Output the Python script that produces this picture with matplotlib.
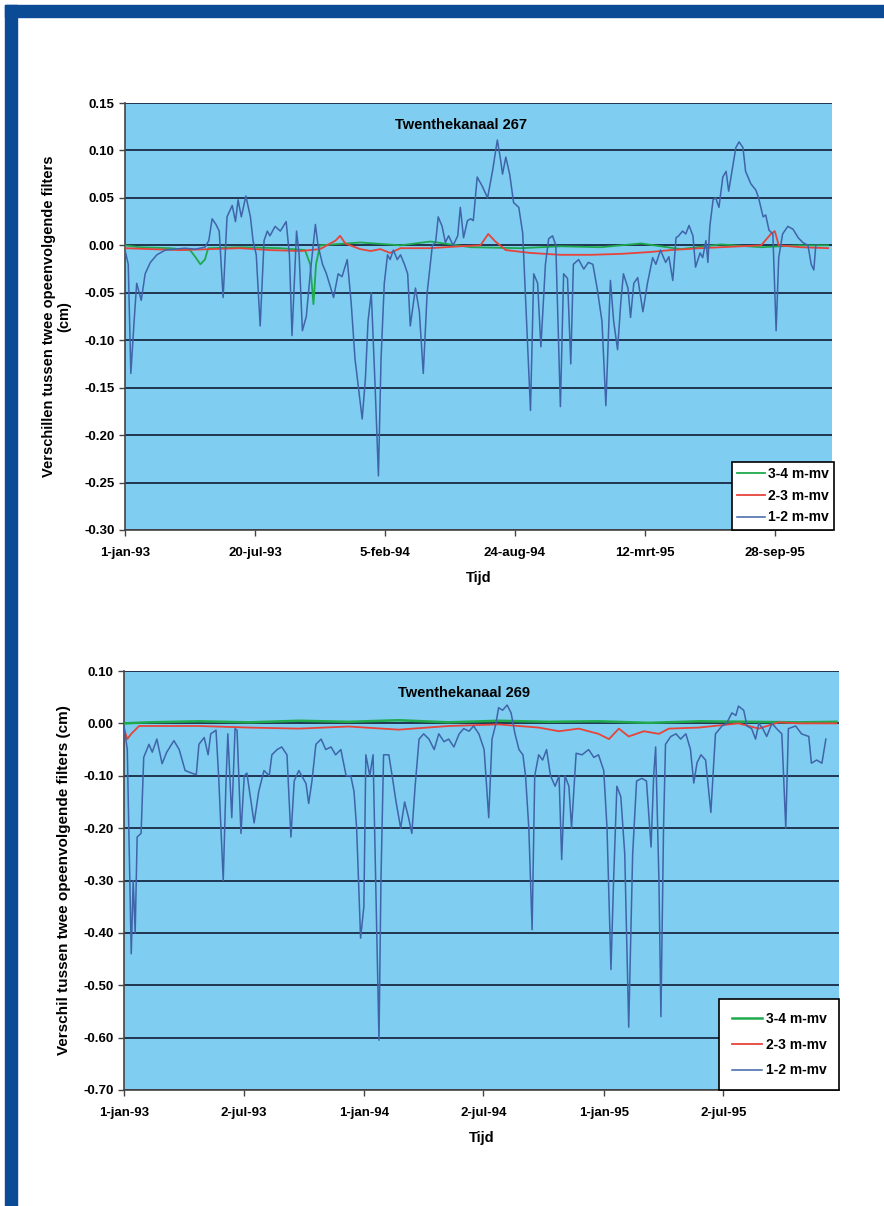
import datetime as dt
import numpy as np
import matplotlib
matplotlib.use("Agg")
import matplotlib.pyplot as plt
import matplotlib.dates as mdates
from matplotlib.patches import Rectangle

plt.rcParams['font.family'] = ['Liberation Sans', 'DejaVu Sans']

# ---- data: day offsets from 1-jan-1993 and values (cm) ----
start = dt.date(1993, 1, 1)

# Twenthekanaal 267
t267_blue_days = [0, 5, 9, 14, 18, 25, 31, 39, 49, 62, 77, 92, 108, 123, 129, 134, 140, 145, 151, 157,
                  165, 170, 174, 179, 186, 193, 197, 202, 208, 214, 219, 223, 231, 239, 248, 253, 257, 264, 268, 273,
                  279, 285, 293, 297, 304, 310, 321, 328, 334, 342, 348, 354, 361, 365, 370, 374, 379, 385, 390, 394,
                  399, 404, 408, 413, 419, 424, 430, 435, 439, 444, 447, 453, 459, 465, 473, 478, 482, 488, 493, 498,
                  505, 512, 516, 521, 527, 532, 536, 542, 550, 558, 566, 573, 578, 581, 586, 592, 598, 606, 612, 616,
                  624, 629, 635, 640, 647, 652, 658, 663, 670, 675, 681, 686, 690, 698, 706, 713, 720, 727, 734, 740,
                  747, 752, 758, 763, 767, 774, 778, 783, 789, 797, 804, 812, 817, 824, 832, 837, 843, 848, 852, 858,
                  863, 868, 874, 878, 885, 889, 894, 897, 900, 905, 909, 914, 920, 925, 929, 935, 940, 945, 951, 955,
                  963, 971, 975, 982, 986, 991, 997, 1002, 1006, 1012, 1020, 1028, 1036, 1043, 1051, 1056, 1060, 1063]
t267_blue = [-0.005, -0.02, -0.135, -0.08, -0.04, -0.058, -0.03, -0.018, -0.01, -0.005, -0.004, -0.003, -0.004, -0.002, 0.005, 0.028, 0.022, 0.015, -0.055, 0.03,
             0.042, 0.025, 0.048, 0.03, 0.052, 0.03, 0.005, -0.01, -0.085, 0.005, 0.015, 0.01, 0.02, 0.015, 0.025, -0.01, -0.095, 0.015, -0.01, -0.09,
             -0.075, -0.03, 0.022, 0.0, -0.02, -0.03, -0.055, -0.03, -0.033, -0.015, -0.06, -0.12, -0.16, -0.183, -0.14, -0.08, -0.05, -0.15, -0.243, -0.12,
             -0.04, -0.01, -0.015, -0.005, -0.015, -0.01, -0.02, -0.03, -0.085, -0.06, -0.045, -0.07, -0.135, -0.05, 0.0, 0.003, 0.03, 0.02, 0.003, 0.01,
             0.0, 0.01, 0.04, 0.008, 0.026, 0.028, 0.026, 0.072, 0.062, 0.05, 0.08, 0.111, 0.09, 0.075, 0.093, 0.075, 0.045, 0.04, 0.013, -0.05,
             -0.174, -0.03, -0.04, -0.107, -0.02, 0.007, 0.01, 0.0, -0.17, -0.03, -0.035, -0.125, -0.02, -0.015, -0.025, -0.018, -0.02, -0.047, -0.08, -0.169,
             -0.037, -0.08, -0.11, -0.06, -0.03, -0.045, -0.076, -0.04, -0.034, -0.07, -0.04, -0.013, -0.02, -0.005, -0.018, -0.012, -0.037, 0.008, 0.01, 0.015,
             0.012, 0.021, 0.01, -0.023, -0.008, -0.013, 0.005, -0.018, 0.02, 0.048, 0.05, 0.04, 0.072, 0.078, 0.057, 0.082, 0.103, 0.109, 0.103, 0.078,
             0.065, 0.058, 0.05, 0.03, 0.032, 0.016, 0.012, -0.09, -0.013, 0.012, 0.02, 0.017, 0.008, 0.003, 0.0, -0.02, -0.026, 0.0]

t267_green_days = [0, 23, 69, 100, 108, 116, 123, 128, 177, 239, 277, 285, 290, 294, 300, 362, 424, 470, 532, 609,
                   670, 732, 794, 855, 917, 979, 1040, 1082]
t267_green = [0.0, -0.002, -0.003, -0.005, -0.012, -0.02, -0.015, -0.003, -0.002, -0.003, -0.005, -0.02, -0.062, -0.02, 0.0, 0.003, 0.0, 0.004, -0.002, -0.003,
              -0.001, -0.002, 0.002, -0.004, 0.001, -0.002, 0.0, 0.0]

t267_red_days = [0, 39, 85, 131, 177, 223, 270, 300, 324, 331, 339, 362, 378, 393, 408, 424, 470, 516, 547, 559,
                 570, 586, 624, 670, 717, 763, 809, 840, 886, 917, 979, 994, 1000, 1006, 1040, 1082]
t267_red = [-0.003, -0.004, -0.005, -0.004, -0.003, -0.005, -0.006, -0.004, 0.005, 0.01, 0.002, -0.004, -0.006, -0.004, -0.008, -0.003, -0.003, -0.001, 0.0, 0.012,
            0.004, -0.005, -0.008, -0.01, -0.01, -0.009, -0.007, -0.005, -0.003, -0.002, 0.0, 0.012, 0.015, 0.0, -0.002, -0.003]

# Twenthekanaal 269
t269_blue_days = [0, 5, 8, 11, 14, 17, 20, 26, 30, 38, 43, 50, 58, 65, 76, 84, 93, 103, 110, 114,
                  122, 128, 132, 140, 144, 151, 155, 158, 164, 169, 172, 178, 183, 187, 193, 198, 205, 213, 221, 225,
                  233, 240, 248, 254, 259, 266, 277, 281, 286, 292, 300, 307, 315, 322, 330, 338, 345, 350, 354, 360,
                  365, 368, 374, 379, 383, 388, 391, 395, 403, 408, 414, 421, 427, 433, 438, 443, 449, 456, 464, 472,
                  479, 487, 494, 502, 510, 517, 525, 532, 540, 548, 555, 560, 566, 570, 576, 583, 589, 595, 601, 607,
                  611, 616, 621, 625, 631, 637, 643, 649, 656, 662, 666, 671, 677, 681, 688, 697, 707, 715, 722, 730,
                  735, 741, 745, 750, 756, 762, 768, 774, 780, 788, 795, 802, 806, 809, 814, 817, 821, 824, 832, 840,
                  847, 855, 862, 867, 872, 878, 885, 893, 900, 910, 917, 925, 931, 935, 943, 948, 955, 961, 966, 972,
                  978, 986, 993, 1001, 1007, 1011, 1022, 1031, 1042, 1046, 1054, 1062, 1068]
t269_blue = [-0.005, -0.05, -0.25, -0.44, -0.30, -0.40, -0.217, -0.21, -0.065, -0.04, -0.055, -0.03, -0.077, -0.055, -0.033, -0.05, -0.09, -0.095, -0.098, -0.04,
             -0.027, -0.06, -0.02, -0.013, -0.1, -0.30, -0.12, -0.02, -0.18, -0.01, -0.013, -0.21, -0.1, -0.095, -0.147, -0.19, -0.13, -0.09, -0.1, -0.06,
             -0.05, -0.045, -0.06, -0.217, -0.11, -0.09, -0.115, -0.153, -0.11, -0.04, -0.03, -0.05, -0.045, -0.06, -0.05, -0.1, -0.1, -0.13, -0.2, -0.41,
             -0.35, -0.06, -0.1, -0.06, -0.3, -0.605, -0.3, -0.06, -0.06, -0.1, -0.15, -0.2, -0.15, -0.18, -0.21, -0.12, -0.03, -0.02, -0.03, -0.05,
             -0.02, -0.035, -0.03, -0.045, -0.02, -0.01, -0.015, -0.005, -0.02, -0.05, -0.18, -0.03, 0.0, 0.03, 0.025, 0.035, 0.02, -0.02, -0.05, -0.06,
             -0.1, -0.2, -0.394, -0.1, -0.06, -0.07, -0.05, -0.1, -0.12, -0.1, -0.26, -0.1, -0.12, -0.2, -0.057, -0.06, -0.05, -0.065, -0.06, -0.09,
             -0.2, -0.47, -0.3, -0.12, -0.14, -0.25, -0.58, -0.25, -0.11, -0.105, -0.11, -0.236, -0.1, -0.045, -0.3, -0.56, -0.2, -0.04, -0.025, -0.02,
             -0.03, -0.02, -0.05, -0.114, -0.075, -0.06, -0.07, -0.17, -0.02, -0.005, 0.0, 0.02, 0.015, 0.033, 0.025, -0.005, -0.01, -0.03, 0.0, -0.01,
             -0.025, 0.0, -0.01, -0.02, -0.2, -0.01, -0.005, -0.02, -0.025, -0.076, -0.07, -0.076, -0.03]

t269_green_days = [0, 38, 114, 190, 266, 342, 418, 494, 570, 646, 722, 798, 875, 951, 1027, 1084]
t269_green = [0.0, 0.002, 0.004, 0.002, 0.005, 0.003, 0.006, 0.002, 0.005, 0.003, 0.004, 0.001, 0.004, 0.003, 0.002, 0.003]

t269_red_days = [0, 5, 11, 23, 114, 190, 266, 342, 418, 494, 570, 631, 662, 692, 722, 738, 753, 768, 791, 814,
                 829, 875, 935, 966, 996, 1027, 1084]
t269_red = [-0.01, -0.03, -0.02, -0.005, -0.005, -0.008, -0.01, -0.006, -0.012, -0.005, -0.002, -0.008, -0.015, -0.01, -0.02, -0.03, -0.01, -0.025, -0.015, -0.02,
            -0.01, -0.008, 0.0, -0.01, 0.002, 0.0, 0.0]

ticks_267 = ['1993-01-01', '1993-07-20', '1994-02-05', '1994-08-24', '1995-03-12', '1995-09-28']
ticklabels_267 = ['1-jan-93', '20-jul-93', '5-feb-94', '24-aug-94', '12-mrt-95', '28-sep-95']
ticks_269 = ['1993-01-01', '1993-07-02', '1994-01-01', '1994-07-02', '1995-01-01', '1995-07-02']
ticklabels_269 = ['1-jan-93', '2-jul-93', '1-jan-94', '2-jul-94', '1-jan-95', '2-jul-95']


def to_dates(days):
    return [start + dt.timedelta(days=d) for d in days]


BG = '#7fcdf0'
GRID = '#1f3550'
C_GREEN = '#1fa94c'
C_RED = '#e8433a'
C_BLUE = '#3f64aa'

fig = plt.figure(figsize=(8.84, 12.06), dpi=100)
fig.patch.set_facecolor('white')
# blue page frame (top and left)
fig.patches.append(Rectangle((5 / 884, 1 - 17 / 1206), 1, 12 / 1206, transform=fig.transFigure,
                             color='#0b4a94', zorder=0))
fig.patches.append(Rectangle((5 / 884, 0), 12 / 884, 1 - 5 / 1206, transform=fig.transFigure,
                             color='#0b4a94', zorder=0))


def fmt(v):
    return '%.2f' % (0.0 if abs(v) < 1e-9 else v)


def style_axes(ax, ylim, yticks, xticks, xlabels, title):
    ax.set_facecolor(BG)
    ax.set_xlim(mdates.date2num(start), mdates.date2num(start + dt.timedelta(days=1088)))
    ax.set_ylim(*ylim)
    ax.set_yticks(yticks)
    ax.set_yticklabels([fmt(v) for v in yticks])
    ax.set_xticks([mdates.date2num(dt.date.fromisoformat(s)) for s in xticks])
    ax.set_xticklabels(xlabels)
    for y in yticks:
        ax.axhline(y, color=GRID, lw=1.4, zorder=1)
    for s in ['top', 'right']:
        ax.spines[s].set_visible(False)
    for s in ['left', 'bottom']:
        ax.spines[s].set_color('#444444')
        ax.spines[s].set_linewidth(1.2)
    ax.tick_params(axis='both', direction='out', length=4, width=1, color='#444444',
                   labelsize=9.5)
    ax.tick_params(axis='x', pad=8)
    for lab in ax.get_xticklabels() + ax.get_yticklabels():
        lab.set_fontweight('bold')
    ax.set_xlabel('Tijd', fontsize=10.5, fontweight='bold', labelpad=9)
    ax.text(0.475, 0.948, title, transform=ax.transAxes, ha='center', va='center',
            fontsize=10.5, fontweight='bold')


# ---- top chart ----
ax1 = fig.add_axes([125 / 884, 1 - 530 / 1206, 707 / 884, 427 / 1206])
ax1.plot(to_dates(t267_green_days), t267_green, color=C_GREEN, lw=1.3, label='3-4 m-mv', zorder=3)
ax1.plot(to_dates(t267_red_days), t267_red, color=C_RED, lw=1.3, label='2-3 m-mv', zorder=3)
ax1.plot(to_dates(t267_blue_days), t267_blue, color=C_BLUE, lw=1.1, label='1-2 m-mv', zorder=4)
style_axes(ax1, (-0.30, 0.15), np.round(np.arange(-0.30, 0.151, 0.05), 2),
           ticks_267, ticklabels_267, 'Twenthekanaal 267')
ax1.set_ylabel('Verschillen tussen twee opeenvolgende filters\n(cm)', fontsize=10.5,
               fontweight='bold', labelpad=9, linespacing=1.2)
leg1 = ax1.legend(loc='lower right', bbox_to_anchor=(1.003, 0.0), fancybox=False, framealpha=1,
                  edgecolor='black', prop={'weight': 'bold', 'size': 10}, handlelength=2.0,
                  handletextpad=0.2, labelspacing=0.55, borderpad=0.4, borderaxespad=0.0)
leg1.get_frame().set_linewidth(1.2)
leg1.set_zorder(10)

# ---- bottom chart ----
ax2 = fig.add_axes([124 / 884, 1 - 1090 / 1206, 715 / 884, 419 / 1206])
ax2.plot(to_dates(t269_green_days), t269_green, color=C_GREEN, lw=1.8, label='3-4 m-mv', zorder=3)
ax2.plot(to_dates(t269_red_days), t269_red, color=C_RED, lw=1.3, label='2-3 m-mv', zorder=3)
ax2.plot(to_dates(t269_blue_days), t269_blue, color=C_BLUE, lw=1.1, label='1-2 m-mv', zorder=4)
style_axes(ax2, (-0.70, 0.10), np.round(np.arange(-0.70, 0.101, 0.10), 2),
           ticks_269, ticklabels_269, 'Twenthekanaal 269')
ax2.set_ylabel('Verschil tussen twee opeenvolgende filters (cm)', fontsize=11,
               fontweight='bold', labelpad=9)
leg2 = ax2.legend(loc='lower right', bbox_to_anchor=(1.0, 0.0), fancybox=False, framealpha=1,
                  edgecolor='black', prop={'weight': 'bold', 'size': 10}, handlelength=2.2,
                  handletextpad=0.25, labelspacing=0.85, borderpad=0.9, borderaxespad=0.0)
leg2.get_frame().set_linewidth(1.2)
leg2.set_zorder(10)

fig.savefig('out.png', dpi=100)
